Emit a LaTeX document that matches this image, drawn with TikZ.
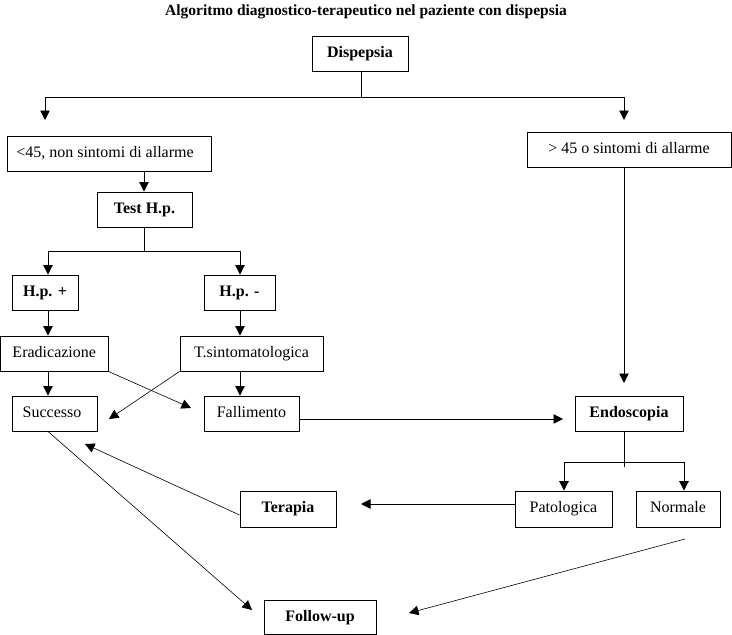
\documentclass[tikz,border=0pt]{standalone}
\usepackage{fontspec}
\setmainfont{Liberation Serif}
\usetikzlibrary{arrows.meta}
\begin{document}
\begin{tikzpicture}[x=1pt,y=-1pt,
  box/.style={draw,line width=0.9pt,inner sep=0pt,minimum height=35pt,text height=11pt,text depth=3.5pt,font=\fontsize{16}{19}\selectfont},
  bbox/.style={box,font=\fontsize{16}{19}\selectfont\bfseries},
  conn/.style={line width=0.9pt},
  arr/.style={line width=0.9pt,-{Triangle[length=9.5pt,width=9.5pt]}},
  thin arr/.style={line width=0.6pt,-{Triangle[length=9.5pt,width=9.5pt]}}]
\useasboundingbox (0,0) rectangle (732,635);
\node[font=\fontsize{15.5}{18}\selectfont\bfseries] (title) at (366,12) {Algoritmo diagnostico-terapeutico nel paziente con dispepsia};
\node[bbox,minimum width=96pt] (disp) at (360,53.5) {Dispepsia};
\node[box,minimum width=204pt] (lt45) at (109,153.5) {\hspace*{-8pt}<45, non sintomi di allarme};
\node[box,minimum width=204pt] (gt45) at (629,149.5) {> 45 o sintomi di allarme};
\node[bbox,minimum width=95pt] (test) at (144.5,209.5) {Test H.p.};
\node[bbox,minimum width=66pt] (hpp) at (45,292.5) {H.p. +};
\node[bbox,minimum width=71pt] (hpm) at (239.5,292.5) {H.p. -};
\node[box,minimum width=107.5pt] (erad) at (54.25,353.5) {Eradicazione};
\node[box,minimum width=143pt] (tsint) at (251.5,353.5) {T.sintomatologica};
\node[box,minimum width=85pt] (succ) at (54.5,413.5) {\hspace*{-5pt}Successo};
\node[box,minimum width=95pt] (fall) at (251.5,413.5) {Fallimento};
\node[bbox,minimum width=108pt] (endo) at (629,413.5) {Endoscopia};
\node[box,minimum width=97pt,minimum height=36pt] (pato) at (563.5,509) {Patologica};
\node[box,minimum width=84pt,minimum height=36pt] (norm) at (678,509) {Normale};
\node[bbox,minimum width=96pt,minimum height=36pt] (terap) at (288,509) {Terapia};
\node[bbox,minimum width=112pt,minimum height=34.5pt] (foll) at (320,617.5) {Follow-up};
% coordinates
\coordinate (j1) at (361,97);
\coordinate (j1l) at (45,97);
\coordinate (j1r) at (624,97);
\coordinate (t1l) at (45,120);
\coordinate (t1r) at (624,120);
\coordinate (j2) at (144,251);
\coordinate (j2l) at (48,251);
\coordinate (j2r) at (240,251);
\coordinate (tErad) at (191,408);
\coordinate (tSucc) at (109,419);
\coordinate (tEndoL) at (563,419);
\coordinate (tEndoT) at (624,383);
\coordinate (j3) at (624,467);
\coordinate (j3l) at (564,462);
\coordinate (j3r) at (684,462);
\coordinate (tTer) at (361,504);
\coordinate (tSucc2) at (85,444);
\coordinate (tFoll) at (252,610);
\coordinate (sNorm) at (685,539);
\coordinate (tFoll2) at (409,613);
% connectors
\draw[conn] (disp.south -| j1) -- (j1);
\draw[conn] (j1l) -- (j1r);
\draw[arr] (j1l) -- (t1l);
\draw[arr] (j1r) -- (t1r);
\draw[arr] (lt45.south -| j2) -- (test.north -| j2);
\draw[conn] (test.south -| j2) -- (j2);
\draw[conn] (j2l) -- (j2r);
\draw[arr] (j2l) -- (hpp.north -| j2l);
\draw[arr] (j2r) -- (hpm.north -| j2r);
\draw[arr] (hpp.south -| j2l) -- (erad.north -| j2l);
\draw[arr] (hpm.south -| j2r) -- (tsint.north -| j2r);
\draw[arr] (erad.south -| j2l) -- (succ.north -| j2l);
\draw[arr] (tsint.south -| j2r) -- (fall.north -| j2r);
\draw[thin arr] (erad.south east) -- (tErad);
\draw[thin arr] (tsint.south west) -- (tSucc);
\draw[arr] (fall.east |- tEndoL) -- (tEndoL);
\draw[arr] (gt45.south -| tEndoT) -- (tEndoT);
\draw[conn] (endo.south -| j3) -- (j3);
\draw[conn] (j3l) -- (j3r);
\draw[arr] (j3l) -- (pato.north -| j3l);
\draw[arr] (j3r) -- (norm.north -| j3r);
\draw[arr] (pato.west |- tTer) -- (tTer);
\draw[thin arr] (terap.west |- 0,515) -- (tSucc2);
\draw[thin arr] (succ.south -| j2l) -- (tFoll);
\draw[thin arr] (sNorm) -- (tFoll2);
\end{tikzpicture}
\end{document}
